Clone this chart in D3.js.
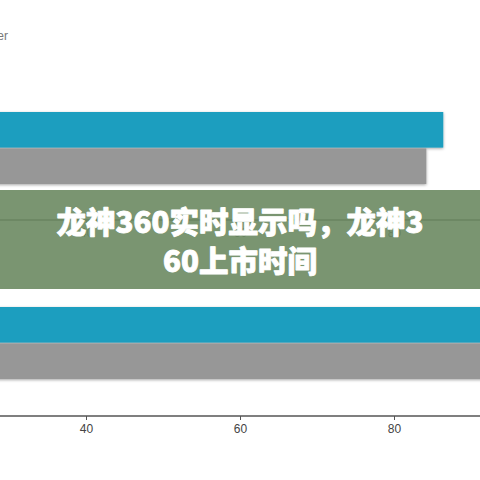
<!DOCTYPE html>
<html><head><meta charset="utf-8">
<script src="https://cdn.jsdelivr.net/npm/d3@7"></script>
<style>html,body{margin:0;padding:0;background:#fff;overflow:hidden}</style>
</head><body>
<svg id="c" width="480" height="480"></svg>
<script>
const panels = ["A", "B"];
const seriesNames = ["Blue", "Gray"];
const blueValues = [86.4, 96];
const grayValues = [84.2, 94];
const xTicks = [40, 60, 80];
const legendText = ["Other"];
const titleLines = ["龙神360实时显示吗，龙神3", "60上市时间"];

const svg = d3.select("#c");
const defs = svg.append("defs");
const f = defs.append("filter").attr("id","sh").attr("x","-10%").attr("y","-30%").attr("width","120%").attr("height","160%");
f.append("feDropShadow").attr("dx",0).attr("dy",1).attr("stdDeviation",1.6).attr("flood-color","#000").attr("flood-opacity",0.35);

const x = d3.scaleLinear().domain([0, 100]).range([-222, 548]);
const colors = d3.scaleOrdinal().domain(seriesNames).range(["#1f9ebf", "#979797"]);

const panelTop = d3.scaleOrdinal().domain(panels).range([112, 307]);
const axisY = d3.scaleOrdinal().domain(panels).range([220, 416]);
const yInner = d3.scaleBand().domain(seriesNames).range([0, 72]).paddingInner(0.02);

panels.forEach((p, i) => {
  const g = svg.append("g").attr("transform", `translate(0,${panelTop(p)})`);
  const vals = [blueValues[i], grayValues[i]];
  g.selectAll("rect").data(seriesNames).join("rect")
    .attr("x", x(0)).attr("y", d => yInner(d))
    .attr("width", (d, j) => x(vals[j]) - x(0))
    .attr("height", yInner.bandwidth())
    .attr("fill", d => colors(d))
    .attr("filter", "url(#sh)");
  const ax = svg.append("g").attr("transform", `translate(0,${axisY(p)})`)
    .call(d3.axisBottom(x).tickValues(xTicks).tickSize(4).tickSizeOuter(0));
  ax.select(".domain").attr("d", `M${x(0)},0H${x(100)}`).attr("stroke", "#555").attr("stroke-width", 1.3);
  ax.selectAll(".tick line").attr("stroke", "#555");
  ax.selectAll(".tick text").attr("fill", "#444").attr("font-size", 12).attr("font-family", "Liberation Sans, Arial, sans-serif").attr("dy", "0.85em");
});

svg.append("text").attr("x", 8).attr("y", 40).attr("text-anchor", "end")
  .attr("font-family", "Liberation Sans, Arial, sans-serif").attr("font-size", 12).attr("fill", "#777")
  .text(legendText[0]);

svg.append("rect").attr("x", 0).attr("y", 190).attr("width", 480).attr("height", 99)
  .attr("fill", "#6c8a62").attr("opacity", 0.9);

const tt = svg.append("text").attr("text-anchor", "middle")
  .attr("font-family", "Noto Sans CJK SC, sans-serif").attr("font-weight", 900)
  .attr("font-size", 29.5).attr("fill", "#fff")
  .attr("stroke", "#fff").attr("stroke-width", 0.9).attr("stroke-linejoin", "round");
titleLines.forEach((t, i) => {
  tt.append("tspan").attr("x", 240).attr("y", 233 + i * 39).text(t);
});
</script>
</body></html>
